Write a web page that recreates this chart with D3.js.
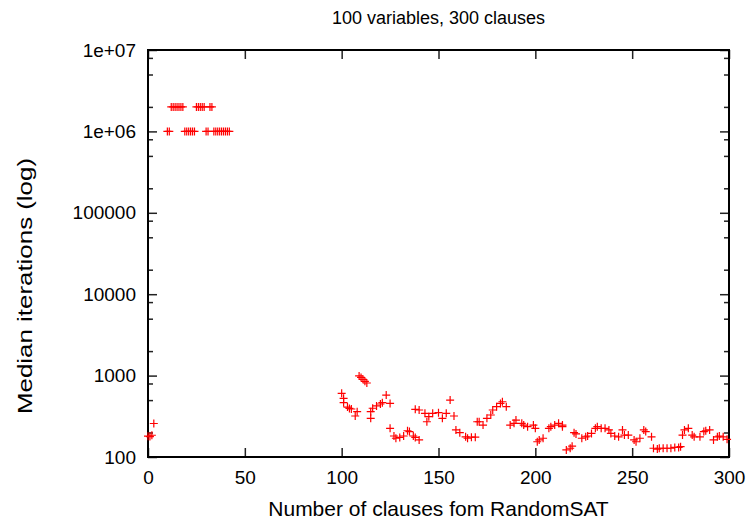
<!DOCTYPE html>
<html>
<head>
<meta charset="utf-8">
<script src="https://cdn.jsdelivr.net/npm/d3@7"></script>
<style>
  html, body { margin: 0; padding: 0; background: #fff; }
  svg text { font-family: "Liberation Sans", Arial, sans-serif; fill: #000; }
</style>
</head>
<body>
<svg id="chart" width="753" height="523"></svg>
<script>
// ---- data ----
const title = "100 variables, 300 clauses";
const xLabel = "Number of clauses fom RandomSAT";
const yLabel = "Median iterations (log)";
const xTicks = [0, 50, 100, 150, 200, 250, 300];
const yTicks = [100, 1000, 10000, 100000, 1000000, 10000000];
const yTickLabels = ["100", "1000", "10000", "100000", "1e+06", "1e+07"];
const yMinorFactors = [2, 5, 8];

const clauseCounts = [
  0, 1, 2, 3,
  10, 11, 12, 13, 14, 15, 16, 17, 18, 19, 20, 21, 22, 23, 24, 25, 26, 27, 28, 29, 30, 31, 32, 33, 34, 35, 36, 37, 38, 39, 40, 41, 42,
  100, 101, 101, 103, 104, 105, 107, 108, 109, 110, 111, 112, 113, 115, 115, 116, 118, 120, 121, 123, 125,
  125, 127, 128, 130, 132, 134, 135, 137, 138, 140,
  138, 140, 143, 145, 144, 147, 150, 152, 154, 156, 158,
  159, 161, 164, 165, 167, 169,
  170, 171, 173, 175, 177, 178, 180, 182, 183, 185,
  187, 189, 190, 193, 194, 196, 199, 200,
  201, 202, 204,
  207, 208, 210, 212, 214, 214,
  216, 218, 219,
  220, 221, 224, 226, 227, 229, 231, 232, 234, 236, 238, 239, 241, 243, 245, 246, 248, 251, 252, 254, 256, 257, 260,
  261, 263, 264, 266, 268, 270, 272, 274, 275,
  276, 277, 279, 281, 282, 285, 287, 288, 290, 292, 294, 295, 297, 299
];
const medianIterations = [
  180, 178, 185, 258,
  1000000, 1000000, 2000000, 2000000, 2000000, 2000000, 2000000, 2000000, 2000000, 1000000, 1000000, 1000000, 1000000, 1000000, 1000000, 2000000, 2000000, 2000000, 2000000, 2000000, 1000000, 1000000, 2000000, 2000000, 1000000, 1000000, 1000000, 1000000, 1000000, 1000000, 1000000, 1000000, 1000000,
  606, 526, 465, 411, 395, 389, 319, 360, 990, 950, 900, 850, 811, 360, 299, 397, 424, 448, 465, 577, 455,
  225, 181, 170, 174, 181, 210, 205, 181, 174, 162,
  385, 378, 344, 313, 271, 344, 350, 299, 344, 501, 319,
  215, 199, 177, 170, 175, 175,
  271, 271, 247, 299, 328, 378, 415, 455, 477, 415,
  247, 259, 284, 259, 247, 236, 247, 225,
  154, 162, 170,
  225, 236, 247, 259, 247, 236,
  122, 128, 136,
  199, 192, 170, 177, 181, 195, 225, 236, 225, 225, 215, 195, 181, 177, 215, 186, 186, 162, 154, 170, 215, 205, 177,
  128, 125, 128, 128, 128, 128, 131, 131, 134,
  186, 215, 225, 186, 177, 177, 205, 210, 215, 162, 177, 181, 177, 165
];

// ---- layout ----
const W = 753, H = 523;
const plot = { left: 148, right: 729, top: 50, bottom: 457 };
const fontFamily = "Liberation Sans, Arial, sans-serif";

const svg = d3.select("#chart");
svg.append("rect").attr("width", W).attr("height", H).attr("fill", "#fff");

const x = d3.scaleLinear().domain([0, 300]).range([plot.left, plot.right]);
const y = d3.scaleLog().domain([100, 1e7]).range([plot.bottom, plot.top]);

const majorLen = 9, minorLen = 5;
const tickColor = "#222";

const minorVals = [];
for (let i = 0; i < yTicks.length - 1; i++) {
  yMinorFactors.forEach(f => minorVals.push(yTicks[i] * f));
}

function styleTicks(g) {
  g.select(".domain").remove();
  g.selectAll("line").attr("stroke", tickColor).attr("stroke-width", 1.5);
}

// left axis (inward ticks)
const leftAxis = d3.axisLeft(y).tickValues(yTicks).tickFormat((d, i) => yTickLabels[i])
  .tickSizeInner(-majorLen).tickSizeOuter(0).tickPadding(12);
const gL = svg.append("g").attr("transform", `translate(${plot.left},0)`).call(leftAxis);
styleTicks(gL);
gL.selectAll("text").attr("font-size", 19).attr("fill", "#000").attr("font-family", fontFamily);

const gLm = svg.append("g").attr("transform", `translate(${plot.left},0)`)
  .call(d3.axisLeft(y).tickValues(minorVals).tickFormat("").tickSizeInner(-minorLen).tickSizeOuter(0));
styleTicks(gLm);

// right axis (mirror)
const gR = svg.append("g").attr("transform", `translate(${plot.right},0)`)
  .call(d3.axisRight(y).tickValues(yTicks).tickFormat("").tickSizeInner(-majorLen).tickSizeOuter(0));
styleTicks(gR);
const gRm = svg.append("g").attr("transform", `translate(${plot.right},0)`)
  .call(d3.axisRight(y).tickValues(minorVals).tickFormat("").tickSizeInner(-minorLen).tickSizeOuter(0));
styleTicks(gRm);

// bottom axis
const gB = svg.append("g").attr("transform", `translate(0,${plot.bottom})`)
  .call(d3.axisBottom(x).tickValues(xTicks).tickFormat(d3.format("d"))
    .tickSizeInner(-majorLen).tickSizeOuter(0).tickPadding(14));
styleTicks(gB);
gB.selectAll("text").attr("font-size", 19).attr("fill", "#000").attr("font-family", fontFamily);

// top axis (mirror)
const gT = svg.append("g").attr("transform", `translate(0,${plot.top})`)
  .call(d3.axisTop(x).tickValues(xTicks).tickFormat("").tickSizeInner(-majorLen).tickSizeOuter(0));
styleTicks(gT);

// frame
svg.append("rect")
  .attr("x", plot.left).attr("y", plot.top)
  .attr("width", plot.right - plot.left).attr("height", plot.bottom - plot.top)
  .attr("fill", "none").attr("stroke", "#000").attr("stroke-width", 2);

// points: "+" markers
const pts = clauseCounts.map((c, i) => ({ c, v: medianIterations[i] }));
const arm = 4;
svg.append("g").selectAll("path").data(pts).join("path")
  .attr("d", d => {
    const cx = x(d.c), cy = y(d.v);
    return `M${cx - arm},${cy}H${cx + arm}M${cx},${cy - arm}V${cy + arm}`;
  })
  .attr("stroke", "#ff0000").attr("stroke-width", 1.2).attr("fill", "none");

// labels
svg.append("text").attr("x", (plot.left + plot.right) / 2).attr("y", 24)
  .attr("text-anchor", "middle").attr("font-size", 18).text(title);
svg.append("text").attr("x", (plot.left + plot.right) / 2).attr("y", 516)
  .attr("text-anchor", "middle").attr("font-size", 21).text(xLabel);
svg.append("text").attr("transform", `translate(32,286) rotate(-90)`)
  .attr("text-anchor", "middle").attr("font-size", 21)
  .attr("textLength", 256).attr("lengthAdjust", "spacingAndGlyphs").text(yLabel);
</script>
</body>
</html>
